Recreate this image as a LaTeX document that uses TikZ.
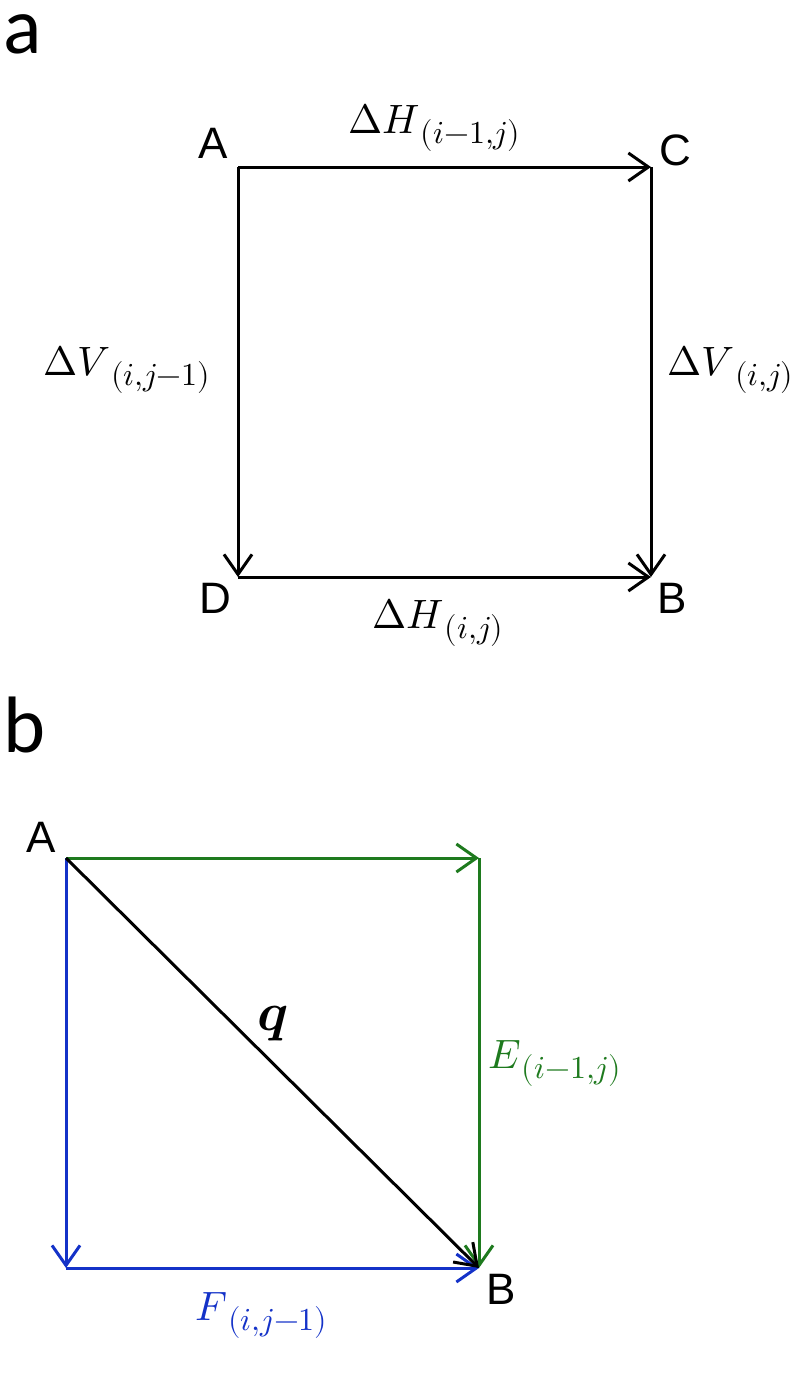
\documentclass[tikz,border=0pt]{standalone}
\usepackage{fontspec}
\usepackage{unicode-math}
\setmathfont{Latin Modern Math}
\newfontfamily\labelfont{Liberation Sans}
\newfontfamily\panelfont{Carlito}
\usetikzlibrary{arrows.meta}
\definecolor{vgreen}{RGB}{30,122,30}
\definecolor{vblue}{RGB}{20,50,200}
\newcommand\sublab[2]{$#1$\hspace{1pt}\raisebox{-10pt}{\fontsize{32}{36}\selectfont$#2$}}
\tikzset{
  edge/.style={line width=3pt, -{Straight Barb[length=20pt,width=28pt,line width=3pt]}},
  corner/.style={font=\labelfont\fontsize{44}{50}\selectfont, inner sep=0pt},
  panel/.style={font=\panelfont\fontsize{80}{90}\selectfont, inner sep=0pt, anchor=base, text depth=0pt},
  mlabel/.style={font=\fontsize{41}{46}\selectfont, inner sep=0pt, anchor=base west},
}
\begin{document}
\begin{tikzpicture}[x=1pt,y=-1pt]
\useasboundingbox (0,0) rectangle (798,1385);
% panel a
\node[panel, text height=38pt] (pa) at (23,53) {a};
\coordinate (a-A) at (238,167);
\coordinate (a-C) at (651,167);
\coordinate (a-D) at (238,577);
\coordinate (a-B) at (651,577);
\draw[edge] (a-A) -- (a-C);
\draw[edge] (a-A) -- (a-D);
\draw[edge] (a-C) -- (a-B);
\draw[edge] (a-D) -- (a-B);
\node[corner] (lA) at (213,143) {A};
\node[corner] (lC) at (675,150) {C};
\node[corner] (lD) at (215,598) {D};
\node[corner] (lB) at (672,598) {B};
\node[mlabel] (hTop) at (348,133) {\sublab{\Delta H}{(i{-}1{,}j)}};
\node[mlabel] (vLeft) at (43,375) {\sublab{\Delta V}{(i{,}j{-}1)}};
\node[mlabel] (vRight) at (667,375) {\sublab{\Delta V}{(i{,}j)}};
\node[mlabel] (hBot) at (372,628) {\sublab{\Delta H}{(i{,}j)}};
% panel b
\node[panel] (pb) at (25,752) {b};
\coordinate (b-A) at (66,858);
\coordinate (b-T) at (479,858);
\coordinate (b-L) at (66,1268);
\coordinate (b-B) at (479,1268);
\draw[edge,vgreen] (b-A) -- (b-T);
\draw[edge,vgreen] (b-T) -- (b-B);
\draw[edge,vblue] (b-A) -- (b-L);
\draw[edge,vblue] (b-L) -- (b-B);
\draw[edge,black] (b-A) -- (b-B);
\node[corner] (lbA) at (41,837) {A};
\node[corner] (lbB) at (501,1289) {B};
\node[mlabel,text=vgreen] (eLab) at (488,1068) {\sublab{E}{(i{-}1{,}j)}};
\node[mlabel,text=vblue] (fLab) at (195,1320) {\sublab{F}{(i{,}j{-}1)}};
\node[mlabel,font=\fontsize{54}{60}\selectfont] (qLab) at (257,1030) {$\symbfit{q}$};
\end{tikzpicture}
\end{document}
